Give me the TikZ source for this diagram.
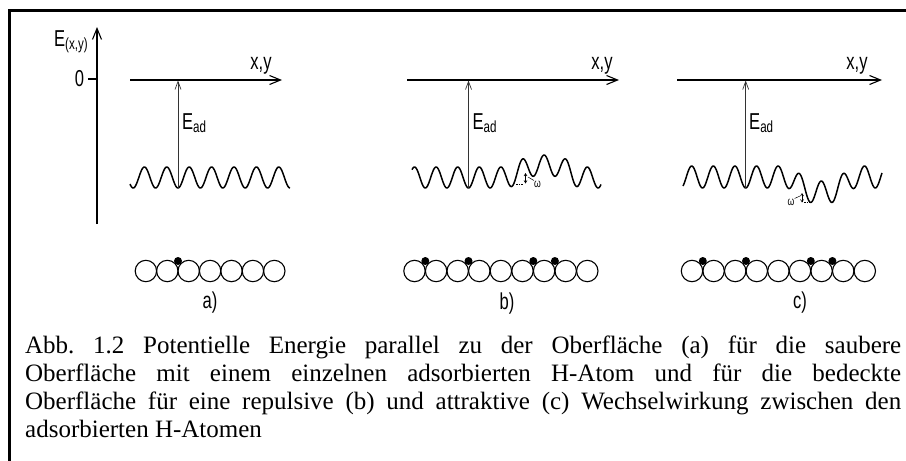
\documentclass[tikz,border=0pt]{standalone}
\usepackage{fontspec}
\usetikzlibrary{arrows.meta}
\newfontfamily\lblfont[FakeStretch=0.72]{Liberation Sans}
\newfontfamily\capfont{Liberation Serif}
\begin{document}
\begin{tikzpicture}[x=1pt, y=-1pt,
  frame/.style={line width=2.5pt},
  axis/.style={line width=1.1pt, -{Straight Barb[length=11pt,width=9pt,line width=1.1pt]}},
  ead/.style={line width=0.7pt, draw=black!80, -{Straight Barb[length=8pt,width=6pt,line width=0.7pt]}},
  wave/.style={line width=1.5pt, line join=round, samples=260},
  atom/.style={circle, draw, line width=1.1pt, minimum size=21.4pt, inner sep=0pt, outer sep=0pt},
  hatom/.style={circle, fill, minimum size=8pt, inner sep=0pt},
  lbl/.style={font=\lblfont\fontsize{23}{26}\selectfont, inner sep=0pt},
  omg/.style={font=\lblfont\fontsize{12}{13}\selectfont, inner sep=0pt},
  tiny/.style={line width=0.6pt, {Straight Barb[length=2.5pt,width=3pt]}-{Straight Barb[length=2.5pt,width=3pt]}}
]
\useasboundingbox (0,0) rectangle (906,461);
\draw[frame] (906,10.5) -- (9.5,10.5) -- (9.5,461);

% energy axis
\coordinate (ybot) at (97,224);
\coordinate (ytop) at (97,27);
\coordinate (tick) at (88,79);
\coordinate (zero) at (97,79);
\draw[axis] (ybot) -- (ytop);
\draw[line width=1.1pt] (tick) -- (zero);
\node[lbl, anchor=base west] (lE) at (54,46) {E\textsubscript{(x,y)}};
\node[lbl] (l0) at (79.5,78.5) {0};

% a) clean surface
\coordinate (a0) at (130,80);
\coordinate (a1) at (282,80);
\draw[axis] (a0) -- (a1);
\node[lbl, anchor=base] (axy) at (261,69) {x,y};
\draw[wave] plot[domain=130:290] (\x,{177.5+10.5*cos(16.0714*(\x-178))});
\coordinate (amin) at (178,188);
\coordinate (atop) at (178,80.5);
\draw[ead] (amin) -- (atop);
\node[lbl, anchor=base west] (aE) at (182,129) {E\textsubscript{ad}};
\foreach \i in {0,...,6}
  \node[atom] (as\i) at ({145.9+21.4*\i},271) {};
\node[hatom] (ah1) at (178,261) {};
\node[lbl] (alab) at (210,303) {a)};

% b) repulsive
\coordinate (b0) at (407,80);
\coordinate (b1) at (619,80);
\draw[axis] (b0) -- (b1);
\node[lbl, anchor=base] (bxy) at (602,69) {x,y};
\draw[wave] plot[domain=412:601] (\x,{177.5+10.5*cos(16.6667*(\x-425.3))-12*exp(-((\x-544.1)/27)^4)});
\coordinate (bmin) at (468.5,188);
\coordinate (btop) at (468.5,80.5);
\draw[ead] (bmin) -- (btop);
\node[lbl, anchor=base west] (bE) at (472.5,129) {E\textsubscript{ad}};
\foreach \i in {0,...,8}
  \node[atom] (bs\i) at ({414.5+21.6*\i},271) {};
\foreach \x [count=\k] in {425.3,468.5,533.3,554.9}
  \node[hatom] (bh\k) at (\x,261) {};
\node[lbl] (blab) at (507,304) {b)};
\coordinate (bd0) at (516,184);
\coordinate (bd1) at (523,184);
\draw[line width=0.6pt, dash pattern=on 1.5pt off 1pt] (bd0) -- (bd1);
\coordinate (bw0) at (525.5,173);
\coordinate (bw1) at (525.5,183.5);
\draw[tiny] (bw0) -- (bw1);
\node[omg] (bw) at (537.5,184) {ω};
\draw[line width=0.5pt] (528,177) -- (bw.north west);

% c) attractive
\coordinate (c0) at (677,80);
\coordinate (c1) at (882,80);
\draw[axis] (c0) -- (c1);
\node[lbl, anchor=base] (cxy) at (857,69) {x,y};
\draw[wave] plot[domain=683:882] (\x,{177+11*cos(16.6667*(\x-702.5))+15*exp(-((\x-821.3)/24)^4)});
\coordinate (cmin) at (745.7,188);
\coordinate (ctop) at (745.7,80.5);
\draw[ead] (cmin) -- (ctop);
\node[lbl, anchor=base west] (cE) at (749,129) {E\textsubscript{ad}};
\foreach \i in {0,...,8}
  \node[atom] (cs\i) at ({692+21.6*\i},271) {};
\foreach \x [count=\k] in {702.8,746,810.8,832.4}
  \node[hatom] (ch\k) at (\x,261) {};
\node[lbl] (clab) at (800,303) {c)};
\node[omg] (cw) at (791,202) {ω};
\coordinate (cw0) at (802,193);
\coordinate (cw1) at (802,202.5);
\draw[tiny] (cw0) -- (cw1);
\draw[line width=0.5pt] (cw.north east) -- (800,196);
\coordinate (cd0) at (804,202.5);
\coordinate (cd1) at (810,202.5);
\draw[line width=0.6pt, dash pattern=on 1.5pt off 1pt] (cd0) -- (cd1);

% caption
\node[anchor=base west, text width=876pt, align=justify, inner sep=0pt,
      font=\capfont\fontsize{25}{28}\selectfont\frenchspacing] (cap) at (25,353)
  {Abb. 1.2 Potentielle Energie parallel zu der Oberfläche (a) für die saubere\linebreak
   Oberfläche mit einem einzelnen adsorbierten H-Atom und für die bedeckte\linebreak
   Oberfläche für eine repulsive (b) und attraktive (c) Wechselwirkung zwischen den\linebreak
   adsorbierten H-Atomen};
\end{tikzpicture}
\end{document}
